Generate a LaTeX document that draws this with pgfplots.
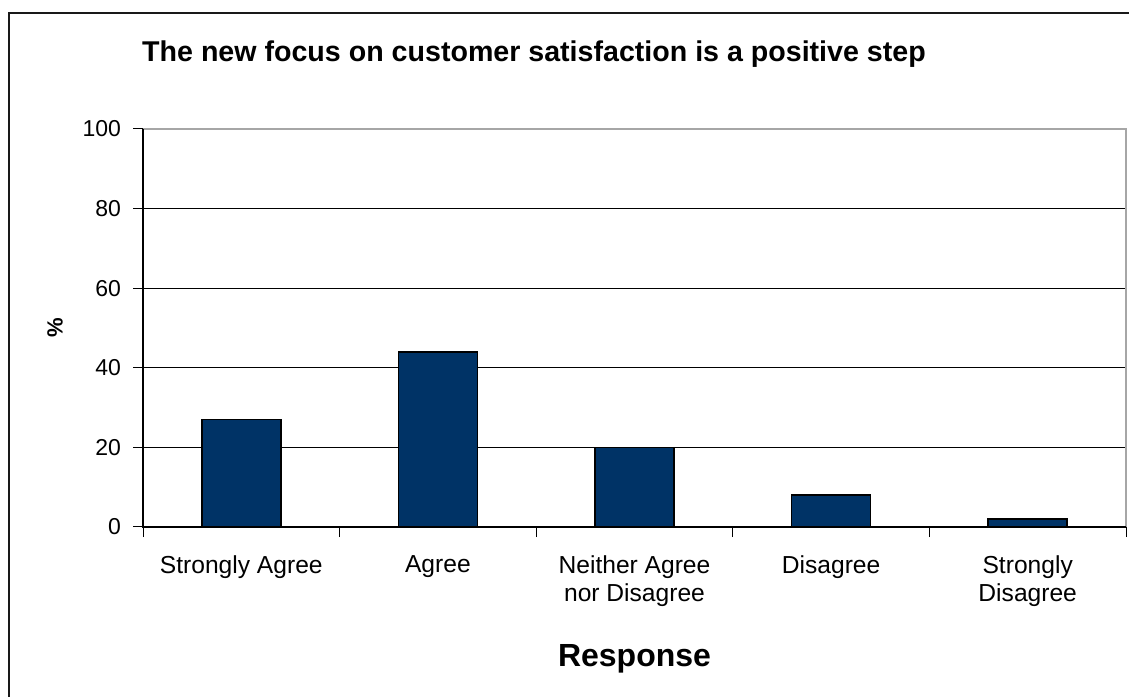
\documentclass[border=0pt]{standalone}
\usepackage{pgfplots}
\pgfplotsset{compat=1.18}
\usepackage{fontspec}
\setmainfont{Liberation Sans}
\definecolor{barblue}{RGB}{0,51,102}
\begin{document}
\begin{tikzpicture}[x=1pt,y=1pt]
\useasboundingbox (0,0) rectangle (564.5,348);
\draw[line width=1.2pt,black!90] (4.5,-2) -- (4.5,341.5) -- (570,341.5);
\begin{axis}[
  at={(71.5pt,84.5pt)}, anchor=south west,
  width=491.5pt, height=199pt, scale only axis,
  xmin=-0.5, xmax=4.5, ymin=0, ymax=100,
  xtick={0,1,2,3,4},
  xticklabels={Strongly Agree, Agree, {Neither Agree\\nor Disagree}, Disagree, {Strongly\\Disagree}},
  xticklabel style={align=center, font=\fontsize{12.3}{13.6}\selectfont, yshift=-6pt},
  major x tick style={draw=none},
  minor xtick={-0.5,0.5,1.5,2.5,3.5,4.5},
  minor tick length=5pt,
  xtick pos=bottom, ytick pos=left,
  ytick={0,20,40,60,80,100},
  yticklabel style={font=\fontsize{11.5}{13}\selectfont, xshift=-2.5pt},
  major tick length=5pt,
  tick align=outside,
  tick style={black, line width=0.5pt},
  /pgf/number format/assume math mode=true,
  ymajorgrids, grid style={black, line width=0.5pt},
  axis line style={draw=none},
  clip=false,
]
\addplot[ybar, bar width=39.5pt, fill=barblue, draw=black, line width=0.8pt]
  coordinates {(0,27) (1,44) (2,20) (3,8) (4,2)};
\draw[gray!70, line width=1pt] (rel axis cs:0,1) -- (rel axis cs:1,1) -- (rel axis cs:1,0);
\draw[black, line width=0.6pt] (rel axis cs:0,1) -- (rel axis cs:0,0) -- (rel axis cs:1,0);
\end{axis}
\node[font=\bfseries\fontsize{14.3}{16}\selectfont] at (267,321) {The new focus on customer satisfaction is a positive step};
\node[font=\bfseries\fontsize{16}{18}\selectfont] at (317.25,18.5) {Response};
\node[font=\bfseries\fontsize{11}{13}\selectfont, rotate=90] at (27.5,184) {\%};
\end{tikzpicture}
\end{document}
